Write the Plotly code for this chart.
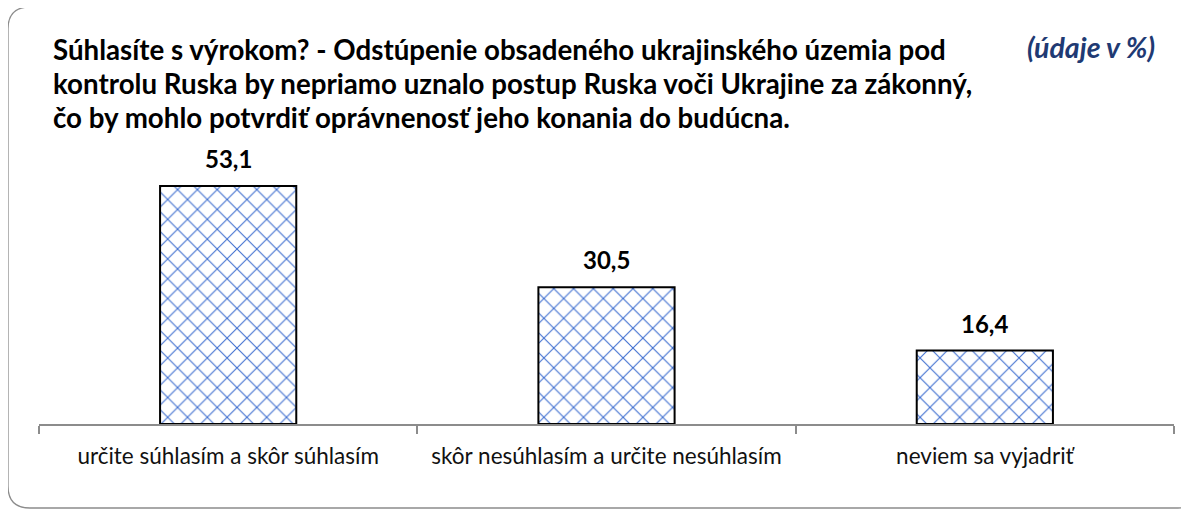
import plotly.graph_objects as go

categories = ["určite súhlasím a skôr súhlasím", "skôr nesúhlasím a určite nesúhlasím", "neviem sa vyjadriť"]
values = [53.1, 30.5, 16.4]
value_labels = ["53,1", "30,5", "16,4"]
title_lines = [
    "Súhlasíte s výrokom? - Odstúpenie obsadeného ukrajinského územia pod",
    "kontrolu Ruska by nepriamo uznalo postup Ruska voči Ukrajine za zákonný,",
    "čo by mohlo potvrdiť oprávnenosť jeho konania do budúcna.",
]
unit_note = "(údaje v %)"

OFF = 8  # page body margin
W, H = 1189 - OFF, 512 - OFF
# plot area in page coords: x 39..1174, bottom at 424
L, R, T, B = 39 - OFF, 1189 - 1174, 150 - OFF, 512 - 424
PW, PH = W - L - R, H - T - B
FONT = "Lato"

def px(x):  # page x -> paper
    return (x - OFF - L) / PW

def py(y):  # page y -> paper
    return (H - B - (y - OFF)) / PH

fig = go.Figure()
fig.add_trace(go.Bar(
    x=categories, y=values, width=0.36,
    marker=dict(color="white", line=dict(color="black", width=2),
                pattern=dict(shape="x", fgcolor="#3F6FD0", bgcolor="white", size=14, solidity=0.15, fgopacity=1)),
    hoverinfo="skip",
))

for c, v, t in zip(categories, values, value_labels):
    fig.add_annotation(x=c, y=v, text=f"<b>{t}</b>", showarrow=False, yanchor="bottom",
                       yshift=11, font=dict(family=FONT, size=24, color="black"))

for i, line in enumerate(title_lines):
    fig.add_annotation(xref="paper", yref="paper", x=px(51), y=py(49 + 34 * i), xanchor="left", yanchor="middle",
                       text=f"<b>{line}</b>", showarrow=False, font=dict(family=FONT, size=27.7, color="black"))
fig.add_annotation(xref="paper", yref="paper", x=px(1157), y=py(47), xanchor="right", yanchor="middle",
                   text=f"<b><i>{unit_note}</i></b>", showarrow=False, font=dict(family=FONT, size=28.5, color="#1F3A73"))

# rounded border
x0, x1, y0, y1, r = 8, 1200, 7, 508, 22
path = (f"M {px(x0 + r)},{py(y0)} L {px(x1 - r)},{py(y0)} Q {px(x1)},{py(y0)} {px(x1)},{py(y0 + r)} "
        f"L {px(x1)},{py(y1 - r)} Q {px(x1)},{py(y1)} {px(x1 - r)},{py(y1)} "
        f"L {px(x0 + r)},{py(y1)} Q {px(x0)},{py(y1)} {px(x0)},{py(y1 - r)} "
        f"L {px(x0)},{py(y0 + r)} Q {px(x0)},{py(y0)} {px(x0 + r)},{py(y0)} Z")
fig.add_shape(type="path", xref="paper", yref="paper", path=path, line=dict(color="#8C8C8C", width=1.3), layer="below")

fig.update_layout(
    width=W, height=H, margin=dict(l=L, r=R, t=T, b=B),
    paper_bgcolor="white", plot_bgcolor="white", showlegend=False,
    xaxis=dict(showline=True, linecolor="#8C8C8C", linewidth=1.5, ticks="outside", tickson="boundaries",
               ticklen=8, tickcolor="#8C8C8C", tickwidth=1.5, showgrid=False, ticklabelstandoff=11,
               tickfont=dict(family=FONT, size=22.5, color="#111111"), fixedrange=True),
    yaxis=dict(visible=False, range=[0, PH / 4.48], fixedrange=True),
)
fig.write_html("out.html")
